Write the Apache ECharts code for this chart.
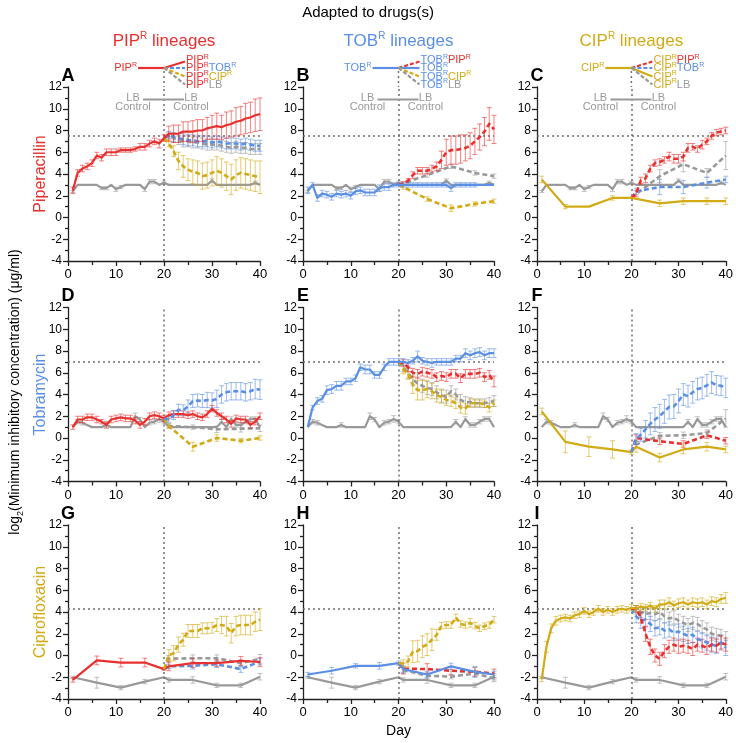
<!DOCTYPE html>
<html><head><meta charset="utf-8">
<script src="https://cdn.jsdelivr.net/npm/echarts@6/dist/echarts.min.js"></script>
<style>html,body{margin:0;padding:0;background:#fff}#c{width:736px;height:743px}</style>
</head><body><div id="c"></div>
<script>
// ---------------- DATA: [day, log2 MIC, error] ----------------
// Row 1: measured in Piperacillin
const ctrlPip = [[1,2.4,0.1],[2,3,0],[3,3,0],[4,3,0],[5,3,0],[6,3,0],[7,2.7,0.15],[8,2.7,0.15],[9,3,0],[10,2.6,0.2],[11,2.8,0.15],[12,3,0],[13,3,0],[14,3,0],[15,3,0],[16,2.6,0.2],[17,3.3,0.2],[18,3.3,0.2],[19,3,0],[20,3.2,0.15],[21,3,0],[22,3,0],[23,3,0],[24,3,0],[25,3,0],[26,3,0],[27,3,0],[28,3,0],[29,3,0],[30,3.4,0.15],[31,3,0],[32,3,0],[33,3,0],[34,3,0],[35,3,0],[36,3,0],[37,3,0],[38,3,0],[39,3.2,0.15],[40,3,0]];
const A_pip = [[1,2.5,0.3],[2,4.1,0.3],[3,4.5,0.3],[4,4.7,0.3],[5,5.0,0.3],[6,5.7,0.3],[7,5.5,0.3],[8,6.0,0.3],[9,6.0,0.3],[10,6.0,0.3],[11,6.2,0.2],[12,6.2,0.2],[13,6.2,0.2],[14,6.3,0.2],[15,6.5,0.3],[16,6.5,0.3],[17,6.8,0.3],[18,7.0,0.3],[19,6.8,0.4],[20,7.3,0.3],[21,7.7,0.7],[22,7.7,0.8],[23,7.7,0.8],[24,7.9,0.9],[25,7.9,0.9],[26,7.9,1.0],[27,8.0,1.0],[28,8.0,1.0],[29,8.2,1.0],[30,8.3,1.1],[31,8.4,1.2],[32,8.3,1.1],[33,8.5,1.2],[34,8.6,1.2],[35,8.8,1.3],[36,8.9,1.3],[37,9.1,1.4],[38,9.2,1.4],[39,9.4,1.5],[40,9.5,1.5]];
const A_tob = [[20,7.3,0],[21,7.6,0.3],[22,7.4,0.4],[23,7.3,0.4],[24,7.2,0.5],[25,7.1,0.5],[26,7.1,0.5],[27,7.0,0.5],[28,7.0,0.5],[29,7.0,0.5],[30,6.9,0.5],[31,7.0,0.5],[32,6.9,0.5],[33,6.8,0.5],[34,6.8,0.5],[35,6.8,0.5],[36,6.7,0.5],[37,6.8,0.5],[38,6.7,0.5],[39,6.6,0.5],[40,6.6,0.5]];
const A_lb = [[20,7.3,0],[21,7.5,0.3],[22,7.3,0.4],[23,7.1,0.4],[24,7.0,0.5],[25,7.0,0.5],[26,6.9,0.5],[27,6.9,0.5],[28,6.8,0.5],[29,6.7,0.5],[30,6.7,0.5],[31,6.7,0.5],[32,6.6,0.5],[33,6.5,0.5],[34,6.4,0.5],[35,6.5,0.5],[36,6.4,0.5],[37,6.4,0.5],[38,6.3,0.5],[39,6.3,0.5],[40,6.3,0.5]];
const A_cip = [[20,7.3,0],[21,6.8,0.3],[22,6.1,0.5],[23,5.2,0.8],[24,4.7,1.0],[25,4.4,1.0],[26,4.2,1.1],[27,4.1,1.1],[28,3.8,1.2],[29,3.9,1.2],[30,4.1,1.2],[31,4.3,1.3],[32,4.1,1.3],[33,3.8,1.3],[34,3.5,1.4],[35,3.9,1.4],[36,4.1,1.4],[37,4.0,1.4],[38,3.9,1.4],[39,3.8,1.4],[40,3.7,1.5]];
const B_tob = [[1,2.5,0.3],[2,3.0,0.2],[3,1.8,0.3],[4,2.2,0.3],[5,2.1,0.3],[6,1.9,0.3],[7,2.2,0.3],[8,2.1,0.3],[9,2.2,0.3],[10,2.0,0.3],[11,2.4,0.3],[12,2.5,0.3],[13,2.3,0.3],[14,2.3,0.3],[15,2.3,0.3],[16,2.7,0.3],[17,2.8,0.3],[18,2.8,0.3],[19,3.0,0.2],[20,3.0,0.2],[21,3.0,0.2],[22,3.0,0.2],[23,3.0,0.2],[24,3.0,0.2],[25,3.0,0.2],[26,3.0,0.2],[27,3.0,0.2],[28,3.0,0.2],[29,3.0,0.2],[30,3.0,0.2],[31,2.7,0.3],[32,3.0,0.2],[33,3.0,0.2],[34,3.0,0.2],[35,3.0,0.2],[36,3.0,0.2],[37,3.0,0],[38,3.0,0],[39,3.0,0],[40,3.0,0]];
const B_pip = [[20,3.0,0],[21,3.1,0.2],[22,3.4,0.2],[23,3.9,0.3],[24,4.3,0.3],[25,4.3,0.3],[26,4.3,0.3],[27,4.5,0.3],[28,4.7,0.4],[29,5.3,0.8],[30,6.0,1.2],[31,6.2,1.3],[32,6.2,1.3],[33,6.3,1.3],[34,6.4,1.2],[35,6.6,1.2],[36,7.0,1.2],[37,7.4,1.2],[38,7.9,1.3],[39,8.6,1.5],[40,8.1,1.3]];
const B_lb = [[20,3.0,0],[26,3.9,0.2],[31,4.7,0.2],[36,4.1,0.2],[40,3.8,0.2]];
const B_cip = [[20,3.0,0],[21,2.8,0.2],[26,1.7,0.2],[31,0.85,0.3],[36,1.25,0.2],[40,1.5,0.2]];
const C_cip = [[1,3.5,0.3],[6,1.0,0.2],[11,1.0,0],[16,1.8,0.2],[20,1.8,0],[26,1.3,0.3],[31,1.5,0.3],[36,1.5,0.3],[40,1.5,0.3]];
const C_pip = [[20,1.8,0],[21,2.2,0.3],[22,3.4,0.3],[23,3.6,0.4],[24,4.5,0.3],[25,5.0,0.3],[26,5.1,0.3],[27,5.3,0.3],[28,5.6,0.4],[29,5.4,0.4],[30,5.4,0.4],[31,5.6,0.4],[32,6.4,0.4],[33,6.5,0.3],[34,6.3,0.3],[35,6.7,0.4],[36,7.0,0.3],[37,7.5,0.3],[38,7.8,0.3],[39,7.9,0.3],[40,8.0,0.3]];
const C_lb = [[20,1.8,0],[26,3.8,0.6],[31,4.9,0.7],[36,4.1,0.4],[40,5.7,1.3]];
const C_tob = [[20,1.8,0],[21,2.4,0.3],[26,2.8,0.7],[31,2.8,0.6],[36,3.2,0.5],[40,3.5,0.3]];
// Row 2: measured in Tobramycin
const ctrlTob = [[1,1.0,0],[2,1.5,0.2],[3,1.4,0.2],[4,1.2,0],[5,1.0,0],[6,1.0,0],[7,1.0,0],[8,1.2,0.2],[9,1.0,0],[10,1.0,0],[11,1.0,0],[12,1.0,0],[13,1.0,0],[14,2.0,0.3],[15,1.7,0.2],[16,1.0,0],[17,1.4,0.2],[18,1.5,0.2],[19,1.75,0.3],[20,1.5,0.2],[21,1.0,0],[22,1.0,0],[23,1.0,0],[24,1.0,0],[25,1.0,0],[26,1.0,0],[27,1.0,0],[28,1.0,0],[29,1.0,0],[30,1.0,0],[31,1.0,0],[32,1.5,0.2],[33,1.0,0],[34,1.75,0.2],[35,1.2,0.2],[36,1.2,0.2],[37,1.5,0.2],[38,1.75,0.2],[39,1.75,0.2],[40,1.0,0]];
const D_pip = [[1,1.0,0.2],[2,1.7,0.3],[3,1.7,0.3],[4,1.9,0.3],[5,1.9,0.3],[6,1.7,0.3],[7,1.5,0.2],[8,1.2,0.3],[9,1.7,0.3],[10,1.8,0.3],[11,1.9,0.3],[12,1.8,0.3],[13,1.8,0.3],[14,1.6,0.3],[15,1.2,0.3],[16,1.5,0.3],[17,2.0,0.3],[18,2.1,0.3],[19,2.0,0.3],[20,1.8,0.3],[21,2.1,0.3],[22,2.2,0.3],[23,2.2,0.3],[24,2.2,0.3],[25,2.1,0.3],[26,2.2,0.3],[27,2.0,0.3],[28,1.9,0.3],[29,2.2,0.3],[30,2.7,0.3],[31,2.3,0.3],[32,2.0,0.3],[33,1.7,0.3],[34,1.3,0.3],[35,1.8,0.3],[36,1.7,0.3],[37,1.7,0.3],[38,1.2,0.3],[39,1.5,0.3],[40,2.0,0.3]];
const D_tob = [[20,1.8,0],[21,1.7,0.3],[22,2.1,0.4],[23,2.6,0.5],[24,2.55,0.5],[25,2.9,0.6],[26,3.4,0.6],[27,3.45,0.6],[28,3.4,0.6],[29,3.5,0.7],[30,3.45,0.7],[31,3.6,0.8],[32,4.0,0.8],[33,4.2,0.8],[34,4.3,0.8],[35,4.3,0.8],[36,4.3,0.8],[37,4.2,0.8],[38,4.3,0.8],[39,4.5,0.9],[40,4.45,0.9]];
const D_lb = [[20,1.8,0],[21,1.1,0.2],[26,1.0,0.2],[31,0.8,0.3],[36,0.85,0.3],[40,0.9,0.3]];
const D_cip = [[20,1.8,0],[21,1.1,0.2],[26,-0.8,0.4],[31,0.0,0.3],[36,-0.25,0.2],[40,0.0,0.2]];
const E_tob = [[1,1.0,0],[2,2.8,0.2],[3,3.4,0.3],[4,3.6,0.3],[5,4.4,0.4],[6,4.5,0.4],[7,4.8,0.4],[8,4.8,0.4],[9,5.2,0.3],[10,5.2,0.3],[11,5.5,0.3],[12,6.5,0.3],[13,6.3,0.4],[14,6.3,0.4],[15,5.8,0.3],[16,5.8,0.3],[17,6.5,0.3],[18,7.0,0.3],[19,7.0,0.3],[20,7.0,0.3],[21,7.0,0.3],[22,6.9,0.3],[23,7.1,0.3],[24,7.5,0.5],[25,7.1,0.3],[26,7.0,0.3],[27,6.9,0.4],[28,7.0,0.3],[29,7.0,0.3],[30,7.0,0.3],[31,7.0,0.3],[32,7.3,0.3],[33,7.3,0.3],[34,7.8,0.4],[35,7.6,0.4],[36,7.8,0.4],[37,7.9,0.4],[38,7.6,0.4],[39,7.8,0.4],[40,7.8,0.4]];
const E_pip = [[20,7.0,0],[21,6.9,0.3],[22,6.5,0.4],[23,6.0,0.4],[24,5.9,0.4],[25,6.1,0.4],[26,6.0,0.4],[27,5.9,0.4],[28,5.6,0.4],[29,5.7,0.4],[30,5.6,0.4],[31,5.9,0.4],[32,5.9,0.4],[33,5.5,0.4],[34,5.9,0.4],[35,5.9,0.4],[36,5.9,0.4],[37,6.0,0.4],[38,5.6,0.4],[39,5.8,0.4],[40,5.2,0.5]];
const E_lb = [[20,7.0,0],[21,6.5,0.4],[22,6.0,0.5],[23,5.4,0.6],[24,5.0,0.6],[25,4.8,0.6],[26,4.6,0.6],[27,4.5,0.6],[28,4.2,0.6],[29,3.9,0.6],[30,3.8,0.6],[31,4.3,0.5],[32,4.0,0.5],[33,3.5,0.5],[34,3.3,0.5],[35,3.3,0.4],[36,3.2,0.4],[37,3.2,0.4],[38,3.2,0.4],[39,3.3,0.4],[40,3.4,0.5]];
const E_cip = [[20,7.0,0],[21,6.3,0.4],[22,5.9,0.5],[23,4.9,0.8],[24,4.4,0.9],[25,4.4,0.9],[26,4.5,0.8],[27,4.3,0.7],[28,3.9,0.6],[29,3.8,0.6],[30,3.5,0.5],[31,3.4,0.5],[32,3.2,0.5],[33,2.8,0.5],[34,2.7,0.5],[35,3.2,0.4],[36,3.2,0.3],[37,3.2,0.3],[38,3.1,0.3],[39,2.8,0.4],[40,3.2,0.3]];
const F_cip = [[1,2.45,0.3],[6,-0.35,1.0],[11,-0.8,0.9],[16,-1.05,0.8],[20,-1.3,0.2],[21,-0.8,0.5],[26,-1.8,0.4],[31,-1.05,0.4],[36,-0.8,0.4],[40,-1.05,0.3]];
const F_tob = [[20,-1.3,0],[21,-0.1,0.5],[22,0.3,0.6],[23,0.8,0.8],[24,1.3,1.0],[25,1.7,1.1],[26,2.0,1.1],[27,2.45,1.1],[28,2.85,1.1],[29,2.9,1.1],[30,3.4,1.1],[31,4.0,1.0],[32,3.85,1.0],[33,4.2,1.0],[34,4.5,1.0],[35,4.6,1.0],[36,4.85,1.0],[37,5.1,1.0],[38,4.85,0.9],[39,4.8,0.9],[40,4.6,0.9]];
const F_pip = [[20,-1.3,0],[21,0.0,0.3],[26,-0.3,0.3],[31,-0.55,0.3],[36,0.25,0.3],[40,-0.25,0.3]];
const F_lb = [[20,-1.3,0],[21,-0.6,0.3],[26,0.2,0.3],[31,0.25,0.3],[36,0.45,0.3],[40,1.8,0.8]];
// Row 3: measured in Ciprofloxacin
const ctrlCip = [[1,-2.0,0.1],[6,-2.5,0.5],[11,-2.95,0.2],[16,-2.4,0.2],[20,-2.0,0],[21,-2.25,0.2],[26,-2.25,0.3],[31,-2.75,0.2],[36,-2.75,0.2],[40,-1.95,0.3]];
const G_pip = [[1,-2.25,0.2],[6,-0.45,0.4],[11,-0.65,0.4],[16,-0.65,0.4],[20,-1.25,0.1],[21,-1.0,0.4],[26,-0.7,0.4],[31,-0.7,0.3],[36,-0.5,0.4],[40,-0.6,0.4]];
const G_cip = [[20,-1.25,0],[21,0.05,0.5],[22,0.2,0.7],[23,1.0,0.7],[24,1.45,0.6],[25,2.25,0.6],[26,2.25,0.6],[27,2.25,0.6],[28,2.5,0.5],[29,2.5,0.5],[30,2.55,0.5],[31,2.8,0.6],[32,2.8,0.8],[33,2.7,0.9],[34,2.05,0.9],[35,2.7,0.9],[36,2.8,0.9],[37,2.8,0.9],[38,2.8,0.9],[39,3.1,0.9],[40,3.3,1.0]];
const G_lb = [[20,-1.25,0],[21,-0.3,0.3],[26,-0.25,0.3],[31,-0.25,0.3],[36,-0.7,0.3],[40,-0.3,0.4]];
const G_tob = [[20,-1.25,0],[21,-1.0,0.2],[26,-0.95,0.3],[31,-0.8,0.3],[36,-1.25,0.3],[40,-0.55,0.3]];
const H_tob = [[1,-1.75,0.2],[6,-1.4,0.3],[11,-0.95,0.2],[16,-0.95,0.3],[20,-0.7,0.2],[21,-1.25,0.3],[26,-1.75,0.3],[31,-1.0,0.3],[36,-1.5,0.5],[40,-1.75,0.3]];
const H_cip = [[20,-0.7,0],[21,-0.7,0.3],[22,-0.55,0.5],[23,0.35,1.0],[24,0.4,1.0],[25,0.8,1.0],[26,1.0,1.0],[27,1.45,1.0],[28,1.9,0.5],[29,2.75,0.3],[30,2.8,0.3],[31,2.8,0.3],[32,3.5,0.3],[33,2.9,0.3],[34,2.8,0.3],[35,3.0,0.4],[36,2.75,0.3],[37,2.5,0.3],[38,2.7,0.3],[39,2.8,0.3],[40,3.3,0.3]];
const H_pip = [[20,-0.7,0],[21,-1.2,0.5],[26,-1.25,0.5],[31,-1.4,0.4],[36,-1.5,0.4],[40,-1.65,0.4]];
const H_lb = [[20,-0.7,0],[21,-1.35,0.3],[26,-1.85,0.3],[31,-1.95,0.2],[36,-1.65,0.3],[40,-2.1,0.3]];
const I_cip = [[1,-2.2,0.2],[2,0.8,0.5],[3,2.5,0.4],[4,3.2,0.4],[5,3.4,0.3],[6,3.5,0.3],[7,3.4,0.3],[8,3.7,0.3],[9,3.8,0.3],[10,4.1,0.3],[11,3.8,0.3],[12,4.0,0.3],[13,4.3,0.3],[14,4.0,0.3],[15,4.2,0.3],[16,4.0,0.3],[17,4.2,0.3],[18,4.3,0.3],[19,4.2,0.3],[20,4.4,0.3],[21,4.3,0.3],[22,4.5,0.3],[23,4.4,0.3],[24,4.6,0.3],[25,4.3,0.3],[26,4.7,0.4],[27,4.7,0.4],[28,4.9,0.4],[29,4.6,0.4],[30,4.8,0.4],[31,4.9,0.4],[32,4.7,0.4],[33,4.9,0.4],[34,4.8,0.4],[35,4.9,0.4],[36,4.7,0.4],[37,5.0,0.4],[38,4.9,0.4],[39,5.2,0.4],[40,5.3,0.5]];
const I_pip = [[20,4.3,0],[21,4.3,0.3],[22,3.5,0.5],[23,2.0,0.7],[24,0.8,0.7],[25,0.0,0.6],[26,-0.3,0.6],[27,0.4,0.6],[28,0.8,0.6],[29,1.0,0.6],[30,0.8,0.6],[31,0.9,0.6],[32,0.8,0.6],[33,0.6,0.6],[34,1.0,0.6],[35,0.9,0.6],[36,0.7,0.6],[37,1.0,0.6],[38,0.9,0.6],[39,1.2,0.6],[40,1.0,0.6]];
const I_tob = [[20,4.3,0],[21,3.6,0.6],[22,3.2,0.7],[23,3.3,0.7],[24,2.9,0.7],[25,2.5,0.7],[26,2.6,0.7],[27,2.3,0.7],[28,2.4,0.7],[29,2.1,0.7],[30,2.2,0.7],[31,2.0,0.7],[32,1.8,0.7],[33,1.9,0.7],[34,1.5,0.7],[35,1.4,0.7],[36,1.2,0.7],[37,1.0,0.7],[38,0.9,0.7],[39,1.2,0.7],[40,0.7,0.7]];
const I_lb = [[20,4.3,0],[21,4.2,0.4],[22,4.0,0.5],[23,3.8,0.5],[24,3.9,0.6],[25,3.8,0.6],[26,4.0,0.6],[27,3.6,0.6],[28,3.4,0.6],[29,3.5,0.6],[30,3.2,0.6],[31,3.0,0.6],[32,2.8,0.6],[33,3.0,0.6],[34,2.9,0.6],[35,2.6,0.6],[36,2.4,0.6],[37,2.0,0.6],[38,1.9,0.6],[39,1.8,0.6],[40,1.6,0.6]];
// Clinical breakpoints per row (log2 µg/ml)
const breakpoints = [7.5, 7.0, 4.3];
const xTicks = [0, 10, 20, 30, 40];
const yTicks = [-4, -2, 0, 2, 4, 6, 8, 10, 12];

// ---------------- STYLE / LAYOUT ----------------
const RED = '#E8302E', BLUE = '#5B8FE4', GOLD = '#D2AA14', GRAY = '#999999';
const FONT = '"Liberation Sans", Arial, Helvetica, sans-serif';
const colLeft = [68, 303, 537], colW = [192, 191, 190];
const rowTop = [87, 307.5, 525], H = 174;

const panels = [
  [[ctrlPip,GRAY,0],[A_lb,GRAY,1],[A_tob,BLUE,1],[A_cip,GOLD,1],[A_pip,RED,0]],
  [[ctrlPip,GRAY,0],[B_lb,GRAY,1],[B_cip,GOLD,1],[B_pip,RED,1],[B_tob,BLUE,0]],
  [[ctrlPip,GRAY,0],[C_lb,GRAY,1],[C_tob,BLUE,1],[C_pip,RED,1],[C_cip,GOLD,0]],
  [[ctrlTob,GRAY,0],[D_lb,GRAY,1],[D_cip,GOLD,1],[D_pip,RED,0],[D_tob,BLUE,1]],
  [[ctrlTob,GRAY,0],[E_lb,GRAY,1],[E_cip,GOLD,1],[E_pip,RED,1],[E_tob,BLUE,0]],
  [[ctrlTob,GRAY,0],[F_lb,GRAY,1],[F_pip,RED,1],[F_cip,GOLD,0],[F_tob,BLUE,1]],
  [[ctrlCip,GRAY,0],[G_lb,GRAY,1],[G_tob,BLUE,1],[G_pip,RED,0],[G_cip,GOLD,1]],
  [[ctrlCip,GRAY,0],[H_lb,GRAY,1],[H_pip,RED,1],[H_tob,BLUE,0],[H_cip,GOLD,1]],
  [[ctrlCip,GRAY,0],[I_lb,GRAY,1],[I_tob,BLUE,1],[I_pip,RED,1],[I_cip,GOLD,0]]
];

const grids = [], xAxes = [], yAxes = [], series = [];
const axisLineStyle = {color: '#222', width: 1.3};
for (let i = 0; i < 9; i++) {
  const r = Math.floor(i / 3), c = i % 3;
  grids.push({left: colLeft[c], top: rowTop[r], width: colW[c], height: H, containLabel: false});
  xAxes.push({gridIndex: i, type: 'value', min: xTicks[0], max: xTicks[xTicks.length-1], interval: xTicks[1]-xTicks[0],
    axisLine: {show: true, onZero: false, lineStyle: axisLineStyle},
    axisTick: {show: true, length: 5, lineStyle: axisLineStyle},
    minorTick: {show: true, splitNumber: 2, length: 4, lineStyle: axisLineStyle},
    splitLine: {show: false},
    axisLabel: {color: '#000', fontSize: 13, fontFamily: FONT, margin: 7}});
  yAxes.push({gridIndex: i, type: 'value', min: yTicks[0], max: yTicks[yTicks.length-1], interval: yTicks[1]-yTicks[0],
    axisLine: {show: true, onZero: false, lineStyle: axisLineStyle},
    axisTick: {show: true, length: 5, lineStyle: axisLineStyle},
    minorTick: {show: true, splitNumber: 2, length: 3, lineStyle: axisLineStyle},
    splitLine: {show: false},
    axisLabel: {color: '#000', fontSize: 12, fontFamily: FONT, margin: 6}});
  panels[i].forEach(([data, color, dashed], k) => {
    const s = {type: 'line', xAxisIndex: i, yAxisIndex: i, data: data.map(d => [d[0], d[1]]),
      showSymbol: false, symbol: 'none', silent: true, animation: false, z: 3 + k,
      lineStyle: {color, width: dashed ? 2.6 : 2.2, type: dashed ? [5, 3] : 'solid', cap: 'butt', join: 'round'}};
    if (k === 0) {
      s.markLine = {silent: true, symbol: 'none', animation: false, label: {show: false},
        lineStyle: {color: '#6f6f6f', width: 1.5, type: [2, 3]},
        data: [{xAxis: 20}, {yAxis: breakpoints[r]}]};
    }
    series.push(s);
    const ec = echarts.color.modifyAlpha(color, 0.6);
    series.push({type: 'custom', xAxisIndex: i, yAxisIndex: i, data: data, silent: true, animation: false, z: 2 + k,
      encode: {x: 0, y: 1},
      renderItem: function (params, api) {
        const x = api.value(0), y = api.value(1), e = api.value(2);
        if (!e) return null;
        const p1 = api.coord([x, y - e]), p2 = api.coord([x, y + e]);
        const w = 2.5, st = {stroke: ec, lineWidth: 1};
        return {type: 'group', children: [
          {type: 'line', shape: {x1: p1[0], y1: p1[1], x2: p2[0], y2: p2[1]}, style: st},
          {type: 'line', shape: {x1: p1[0]-w, y1: p1[1], x2: p1[0]+w, y2: p1[1]}, style: st},
          {type: 'line', shape: {x1: p2[0]-w, y1: p2[1], x2: p2[0]+w, y2: p2[1]}, style: st}
        ]};
      }});
  });
}

const chart = echarts.init(document.getElementById('c'), null, {renderer: 'canvas'});
chart.setOption({backgroundColor: '#fff', animation: false, grid: grids, xAxis: xAxes, yAxis: yAxes, series: series});

// ---------------- ANNOTATIONS ----------------
const g = [];
function sup(color, size) { return {fill: color, fontSize: size, fontFamily: FONT, verticalAlign: 'top', lineHeight: size * 1.9}; }
function txt(color, size, extra) { return Object.assign({fill: color, fontSize: size, fontFamily: FONT, lineHeight: size * 1.2}, extra || {}); }
function richText(x, y, text, rich, align, opts) {
  g.push(Object.assign({type: 'text', x: x, y: y, silent: true, z: 100,
    style: {text: text, rich: rich, align: align || 'left', verticalAlign: 'middle'}}, opts || {}));
}
function line(x1, y1, x2, y2, color, dashed, w) {
  g.push({type: 'line', silent: true, z: 99, shape: {x1, y1, x2, y2},
    style: {stroke: color, lineWidth: w || 2, lineDash: dashed ? [4, 2] : null}});
}

// title
richText(368, 13, '{a|Adapted to drugs(s)}', {a: txt('#000', 15)}, 'center');
// column headers
const heads = [['PIP', RED], ['TOB', BLUE], ['CIP', GOLD]];
const letters = ['A','B','C','D','E','F','G','H','I'];
const abbrCol = {PIP: RED, TOB: BLUE, CIP: GOLD};
for (let c = 0; c < 3; c++) {
  const cx = chart.convertToPixel({xAxisIndex: c}, 20);
  const [ab, col] = heads[c];
  richText(cx, 41, '{a|' + ab + '}{s|R}{a| lineages}', {a: txt(col, 17), s: sup(col, 10)}, 'center');
  // tree legend
  const y0 = 68, L = 11;
  richText(cx - 27, y0, '{a|' + ab + '}{s|R}', {a: txt(col, L), s: sup(col, 7)}, 'right');
  line(cx - 26, y0, cx, y0, col, false, 2.2);
  const branches = c === 0 ? [['PIP', RED, 0], ['TOB', BLUE, 1], ['CIP', GOLD, 1], ['LB', GRAY, 1]]
                 : c === 1 ? [['PIP', RED, 1], ['TOB', BLUE, 0], ['CIP', GOLD, 1], ['LB', GRAY, 1]]
                           : [['PIP', RED, 1], ['TOB', BLUE, 1], ['CIP', GOLD, 0], ['LB', GRAY, 1]];
  const by = [60, 68, 76.5, 84.5];
  branches.forEach(([b, bc, dashed], k) => {
    line(cx, y0, cx + 21, by[k] + (k === 0 ? 1.5 : 0), bc, dashed, 2.2);
    let t, rich = {a: txt(col, L), s: sup(col, 7), b: txt(bc, L), t: sup(bc, 7)};
    if (b === ab) t = '{a|' + ab + '}{s|R}';
    else if (b === 'LB') t = '{a|' + ab + '}{s|R}{b|LB}';
    else t = '{a|' + ab + '}{s|R}{b|' + b + '}{t|R}';
    richText(cx + 22, by[k], t, rich, 'left');
  });
  // LB control
  richText(cx - 31, 98, '{a|LB}', {a: txt(GRAY, L)}, 'center');
  richText(cx - 31, 107, '{a|Control}', {a: txt(GRAY, L)}, 'center');
  richText(cx + 27, 98, '{a|LB}', {a: txt(GRAY, L)}, 'center');
  richText(cx + 27, 107, '{a|Control}', {a: txt(GRAY, L)}, 'center');
  line(cx - 21, 99.5, cx + 20, 99.5, GRAY, false, 1.8);
  // extension of day-20 dotted line above the plot
  g.push({type: 'line', silent: true, z: 98, shape: {x1: cx, y1: 71, x2: cx, y2: rowTop[0]},
    style: {stroke: '#6f6f6f', lineWidth: 1.5, lineDash: [2, 3]}});
}
// panel letters
for (let i = 0; i < 9; i++) {
  const r = Math.floor(i / 3), c = i % 3;
  const px = chart.convertToPixel({xAxisIndex: i}, 0);
  richText(px, rowTop[r] - 11, '{a|' + letters[i] + '}', {a: txt('#000', 18, {fontWeight: 'bold'})}, 'center');
}
// row labels (rotated)
const rowNames = [['Piperacillin', RED], ['Tobramycin', BLUE], ['Ciprofloxacin', GOLD]];
rowNames.forEach(([n, col], r) => {
  richText(41, rowTop[r] + H / 2, '{a|' + n + '}', {a: txt(col, 16)}, 'center', {rotation: Math.PI / 2});
});
// overall y title
richText(15, 392, '{a|log}{b|2}{a|(Minimum inhibitory concentration) (μg/ml)}',
  {a: txt('#000', 14, {lineHeight: 20}), b: {fill: '#000', fontSize: 9, fontFamily: FONT, verticalAlign: 'bottom', lineHeight: 20}}, 'center', {rotation: Math.PI / 2});
// x title
richText(chart.convertToPixel({xAxisIndex: 7}, 20), 731, '{a|Day}', {a: txt('#000', 14)}, 'center');

chart.setOption({graphic: {elements: g}});
</script>
</body></html>
